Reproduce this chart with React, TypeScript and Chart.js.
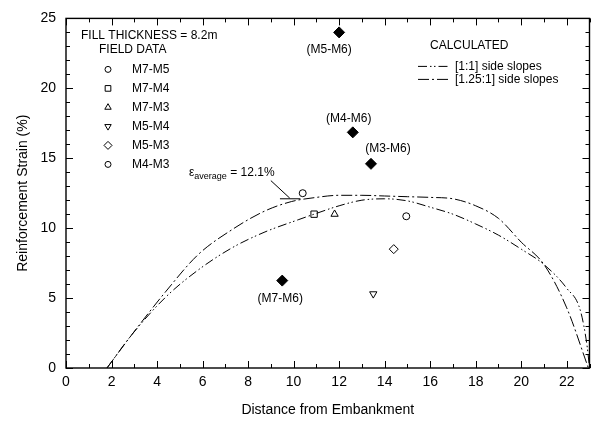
import React, { useEffect, useRef } from 'react';
import { Chart, registerables } from 'chart.js';
import { drawPoint } from 'chart.js/helpers';

Chart.register(...registerables);

// ---- Data ----
const xMin = 0;
const xMax = 23;
const yMin = 0;
const yMax = 25;

const fieldNames = ['M7-M5', 'M7-M4', 'M7-M3', 'M5-M4', 'M5-M3', 'M4-M3'];
const fieldX = [10.4, 10.9, 11.8, 13.5, 14.4, 14.95];
const fieldY = [12.5, 11.0, 11.0, 5.3, 8.5, 10.85];

const m6Labels = ['(M5-M6)', '(M4-M6)', '(M3-M6)', '(M7-M6)'];
const m6X = [12.0, 12.6, 13.4, 9.5];
const m6Y = [24.0, 16.85, 14.6, 6.25];

// [1.25:1] side slopes
const slope125X = [1.8, 2.9, 4.4, 5.8, 7.3, 8.7, 9.9, 11, 12, 13, 14, 15, 16, 17, 18, 19, 20, 21, 22, 22.95];
const slope125Y = [0, 2.4, 5.5, 8.1, 9.9, 11.2, 11.9, 12.2, 12.35, 12.35, 12.3, 12.25, 12.2, 12.1, 11.6, 10.7, 9.0, 7.4, 4.3, 0];

// [1:1] side slopes
const slope11X = [1.8, 2.9, 4.4, 5.8, 7.3, 8.7, 10.2, 10.9, 12, 13, 14, 15, 16, 17, 18, 19, 20, 21, 22, 22.6, 22.9, 23];
const slope11Y = [0, 2.4, 5.1, 7.0, 8.6, 9.7, 10.6, 11.0, 11.6, 12.0, 12.1, 11.95, 11.5, 11.0, 10.3, 9.5, 8.5, 7.4, 5.7, 4.1, 1.5, 0];

// epsilon average pointer
const avgPointerX = [9.0, 9.83];
const avgPointerY = [13.4, 12.15];
const avgBarX = [9.4, 10.3];
const avgBarY = [12.1, 12.1];

// ---- Styles ----
const FONT = "'Liberation Sans', Arial, Helvetica, sans-serif";
const fieldStyles = ['circle', 'rect', 'triangle', 'triangle', 'rectRot', 'circle'];
const fieldRot = [0, 0, 0, 180, 0, 0];
const fieldRadius = [3.5, 4.5, 4.2, 4.2, 4.5, 3.5];
const m6LabelOffsets = [[-10, 17], [-4, -14], [17, -15], [-2, 18]];
const dash125 = [11, 3, 2, 3];
const dash11 = [9, 3, 1.5, 2.5, 1.5, 3];

const zip = (xs: number[], ys: number[]) => xs.map((x, i) => ({ x, y: ys[i] }));

const framePlugin = {
  id: 'frame',
  beforeDatasetsDraw(chart: any) {
    const { ctx, chartArea, scales } = chart;
    const { left, right, top, bottom } = chartArea;
    const x = scales.x;
    const y = scales.y;
    ctx.save();
    ctx.strokeStyle = '#000';
    ctx.lineWidth = 1.4;
    ctx.strokeRect(left, top, right - left, bottom - top);
    ctx.lineWidth = 1;
    const seg = (x1: number, y1: number, x2: number, y2: number) => {
      ctx.beginPath();
      ctx.moveTo(x1, y1);
      ctx.lineTo(x2, y2);
      ctx.stroke();
    };
    x.ticks.forEach((t: any) => {
      const px = Math.round(x.getPixelForValue(t.value)) + 0.5;
      const len = t.value % 2 === 0 ? 7 : 4;
      seg(px, bottom, px, bottom - len);
      seg(px, top, px, top + len);
    });
    y.ticks.forEach((t: any) => {
      const py = Math.round(y.getPixelForValue(t.value)) + 0.5;
      const len = t.value % 5 === 0 ? 7 : 4;
      seg(left, py, left + len, py);
      seg(right, py, right - len, py);
    });
    ctx.restore();
  },
  afterDatasetsDraw(chart: any) {
    const { ctx, chartArea, scales } = chart;
    const { left, top } = chartArea;
    const x = scales.x;
    const y = scales.y;
    ctx.save();
    ctx.fillStyle = '#000';
    ctx.strokeStyle = '#000';
    ctx.font = `12px ${FONT}`;
    ctx.textBaseline = 'middle';
    ctx.textAlign = 'left';

    // Field data legend
    ctx.fillText('FILL THICKNESS = 8.2m', left + 15, top + 17);
    ctx.fillText('FIELD DATA', left + 33, top + 31);
    fieldNames.forEach((n, i) => {
      const yy = top + 51 + i * 19;
      ctx.save();
      ctx.lineWidth = 1;
      ctx.fillStyle = 'rgba(0,0,0,0)';
      drawPoint(ctx, { pointStyle: fieldStyles[i], rotation: fieldRot[i], radius: fieldRadius[i] - 0.5, borderWidth: 1 } as any, left + 42, yy);
      ctx.restore();
      ctx.fillText(n, left + 66, yy);
    });

    // Calculated legend
    ctx.fillText('CALCULATED', left + 364, top + 27);
    const legendLines = [
      { label: '[1:1] side slopes', dash: dash11 },
      { label: '[1.25:1] side slopes', dash: dash125 },
    ];
    legendLines.forEach((l, i) => {
      const yy = top + 48 + i * 13;
      ctx.save();
      ctx.lineWidth = 1;
      ctx.setLineDash(l.dash);
      ctx.beginPath();
      ctx.moveTo(left + 352, yy);
      ctx.lineTo(left + 382, yy);
      ctx.stroke();
      ctx.restore();
      ctx.fillText(l.label, left + 389, yy);
    });

    // M6 labels
    ctx.textAlign = 'center';
    m6Labels.forEach((lab, i) => {
      const px = x.getPixelForValue(m6X[i]) + m6LabelOffsets[i][0];
      const py = y.getPixelForValue(m6Y[i]) + m6LabelOffsets[i][1];
      ctx.fillText(lab, px, py);
    });

    // epsilon average text
    ctx.textAlign = 'left';
    let tx = left + 123;
    const ty = top + 154;
    ctx.font = `12px ${FONT}`;
    ctx.fillText('\u03b5', tx, ty);
    tx += ctx.measureText('\u03b5').width;
    ctx.font = `9px ${FONT}`;
    ctx.fillText('average', tx, ty + 4);
    tx += ctx.measureText('average').width;
    ctx.font = `12px ${FONT}`;
    ctx.fillText(' = 12.1%', tx, ty);
    ctx.restore();
  },
};

export default function App() {
  const ref = useRef<HTMLCanvasElement | null>(null);
  useEffect(() => {
    if (!ref.current) return;
    const chart = new Chart(ref.current, {
      type: 'scatter',
      data: {
        datasets: [
          ...fieldNames.map((n, i) => ({
            label: n,
            data: [{ x: fieldX[i], y: fieldY[i] }],
            pointStyle: fieldStyles[i] as any,
            rotation: fieldRot[i],
            radius: fieldRadius[i],
            borderColor: '#000',
            backgroundColor: 'rgba(0,0,0,0)',
            borderWidth: 1,
          })),
          {
            label: 'M6',
            data: zip(m6X, m6Y),
            pointStyle: 'rectRot' as any,
            radius: 5.5,
            borderColor: '#000',
            backgroundColor: '#000',
            borderWidth: 1,
          },
          {
            label: '[1.25:1] side slopes',
            data: zip(slope125X, slope125Y),
            showLine: true,
            cubicInterpolationMode: 'monotone' as any,
            borderColor: '#000',
            borderWidth: 1,
            borderDash: dash125,
            pointRadius: 0,
          },
          {
            label: '[1:1] side slopes',
            data: zip(slope11X, slope11Y),
            showLine: true,
            cubicInterpolationMode: 'monotone' as any,
            borderColor: '#000',
            borderWidth: 1,
            borderDash: dash11,
            pointRadius: 0,
          },
          {
            label: 'pointer',
            data: zip(avgPointerX, avgPointerY),
            showLine: true,
            borderColor: '#000',
            borderWidth: 1,
            pointRadius: 0,
          },
          {
            label: 'avgbar',
            data: zip(avgBarX, avgBarY),
            showLine: true,
            borderColor: '#000',
            borderWidth: 1,
            pointRadius: 0,
          },
        ],
      },
      options: {
        responsive: false,
        animation: false,
        events: [],
        layout: { padding: { top: 12, right: 4, left: 0, bottom: 0 } },
        plugins: { legend: { display: false }, tooltip: { enabled: false } },
        scales: {
          x: {
            type: 'linear',
            min: xMin,
            max: xMax,
            afterFit: (s: any) => { s.height = 57; },
            grid: { display: false, drawTicks: false },
            border: { display: false },
            ticks: {
              stepSize: 1,
              autoSkip: false,
              maxRotation: 0,
              padding: 6,
              color: '#000',
              font: { size: 14, family: FONT },
              callback: (v: any) => (v % 2 === 0 && v <= 22 ? String(v) : ''),
            },
            title: {
              display: true,
              text: 'Distance from Embankment',
              color: '#000',
              font: { size: 14, family: FONT },
              padding: { top: 6, bottom: 6 },
            },
          },
          y: {
            type: 'linear',
            min: yMin,
            max: yMax,
            afterFit: (s: any) => { s.width = 66; },
            grid: { display: false, drawTicks: false },
            border: { display: false },
            ticks: {
              stepSize: 1,
              autoSkip: false,
              padding: 10,
              color: '#000',
              font: { size: 14, family: FONT },
              callback: (v: any) => (v % 5 === 0 ? String(v) : ''),
            },
            title: {
              display: true,
              text: 'Reinforcement Strain (%)',
              color: '#000',
              font: { size: 14, family: FONT },
              padding: { top: 15, bottom: 0 },
            },
          },
        },
      },
      plugins: [framePlugin],
    });
    return () => chart.destroy();
  }, []);
  return (
    <div style={{ position: 'absolute', left: 0, top: 0, width: 596, height: 425, background: '#fff' }}>
      <canvas ref={ref} width={596} height={425} style={{ display: 'block' }} />
    </div>
  );
}
